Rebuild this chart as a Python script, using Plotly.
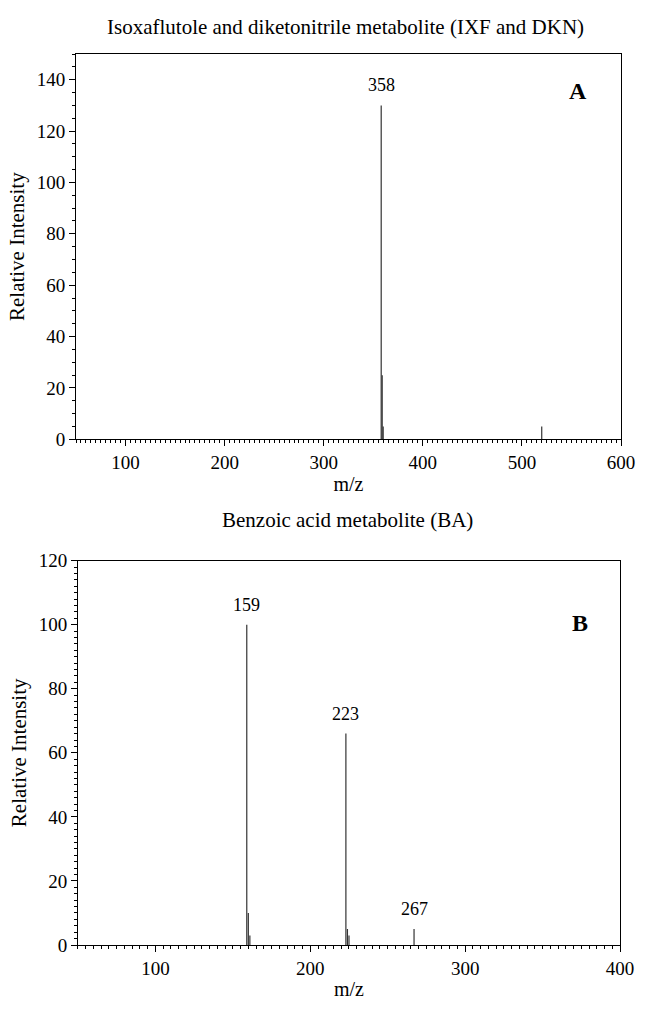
import plotly.graph_objects as go

# Panel A: Isoxaflutole and diketonitrile metabolite (IXF and DKN)
mz_a = [358, 359, 360, 520]
int_a = [130, 25, 5, 5]
labels_a = {358: "358"}

# Panel B: Benzoic acid metabolite (BA)
mz_b = [159, 160, 161, 223, 224, 225, 267]
int_b = [100, 10, 3, 66, 5, 3, 5]
labels_b = {159: "159", 223: "223", 267: "267"}

title_a = "Isoxaflutole and diketonitrile metabolite (IXF and DKN)"
title_b = "Benzoic acid metabolite (BA)"

FONT = "Liberation Serif, Times New Roman, serif"


def stick_xy(mz, inten):
    xs, ys = [], []
    for m, v in zip(mz, inten):
        xs += [m, m, None]
        ys += [0, v, None]
    return xs, ys


fig = go.Figure()
xa, ya = stick_xy(mz_a, int_a)
fig.add_trace(go.Scatter(x=xa, y=ya, mode="lines", line=dict(color="#333", width=1.2),
                         xaxis="x", yaxis="y", showlegend=False, hoverinfo="skip"))
xb, yb = stick_xy(mz_b, int_b)
fig.add_trace(go.Scatter(x=xb, y=yb, mode="lines", line=dict(color="#333", width=1.2),
                         xaxis="x2", yaxis="y2", showlegend=False, hoverinfo="skip"))

ann = []
for m, v in zip(mz_a, int_a):
    if m in labels_a:
        ann.append(dict(x=m, y=v, xref="x", yref="y", text=labels_a[m], showarrow=False,
                        xanchor="center", yanchor="middle", yshift=20,
                        font=dict(size=18, family=FONT, color="black")))
for m, v in zip(mz_b, int_b):
    if m in labels_b:
        ann.append(dict(x=m, y=v, xref="x2", yref="y2", text=labels_b[m], showarrow=False,
                        xanchor="center", yanchor="middle", yshift=20,
                        font=dict(size=18, family=FONT, color="black")))

ann.append(dict(x=0.921, y=0.903, xref="x domain", yref="y domain", text="<b>A</b>", showarrow=False,
                xanchor="center", yanchor="middle", font=dict(size=24, family=FONT, color="black")))
ann.append(dict(x=0.926, y=0.838, xref="x2 domain", yref="y2 domain", text="<b>B</b>", showarrow=False,
                xanchor="center", yanchor="middle", font=dict(size=24, family=FONT, color="black")))
ann.append(dict(x=0.495, y=1.03, xref="paper", yref="paper", text=title_a, showarrow=False,
                xanchor="center", yanchor="middle", font=dict(size=21, family=FONT, color="black")))
ann.append(dict(x=0.498, y=0.4768, xref="paper", yref="paper", text=title_b, showarrow=False,
                xanchor="center", yanchor="middle", font=dict(size=21, family=FONT, color="black")))

axis_common = dict(showline=True, linecolor="black", linewidth=1, mirror=True, showgrid=False,
                   zeroline=False, ticks="outside", ticklen=6, tickcolor="black",
                   ticklabeloverflow="allow",
                   tickfont=dict(size=19, family=FONT, color="black"))

fig.update_layout(
    width=647, height=1009,
    margin=dict(l=76, r=13, t=54, b=51),
    paper_bgcolor="white", plot_bgcolor="white",
    font=dict(family=FONT, color="black"),
    annotations=ann,
    xaxis=dict(domain=[0, 1], anchor="y", range=[50, 600], dtick=100, tick0=0,
               minor=dict(dtick=5, ticks="outside", ticklen=3, tickcolor="black"),
               title=dict(text="m/z", font=dict(size=20, family=FONT), standoff=4),
               **axis_common),
    yaxis=dict(domain=[0.5675, 1], anchor="x", range=[0, 150], dtick=20, tick0=0,
               minor=dict(dtick=5, ticks="outside", ticklen=3, tickcolor="black"),
               title=dict(text="Relative Intensity", font=dict(size=21, family=FONT), standoff=6),
               **axis_common),
    xaxis2=dict(domain=[0.0036, 0.9982], anchor="y2", range=[50, 400], dtick=100, tick0=0,
                minor=dict(dtick=5, ticks="outside", ticklen=3, tickcolor="black"),
                title=dict(text="m/z", font=dict(size=20, family=FONT), standoff=4),
                **axis_common),
    yaxis2=dict(domain=[0, 0.4314], anchor="x2", range=[0, 120], dtick=20, tick0=0,
                minor=dict(dtick=2, ticks="outside", ticklen=3, tickcolor="black"),
                title=dict(text="Relative Intensity", font=dict(size=21, family=FONT), standoff=6),
                **axis_common),
)

fig.write_html("out.html")
